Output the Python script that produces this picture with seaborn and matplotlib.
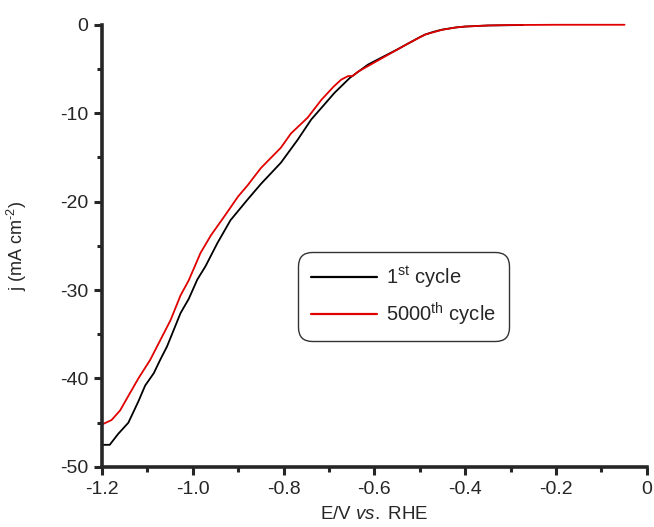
import numpy as np
import pandas as pd
import seaborn as sns
import matplotlib.pyplot as plt
from matplotlib.ticker import MultipleLocator

# polarisation curves
E_first = [-1.200, -1.183, -1.165, -1.142, -1.120, -1.105, -1.086, -1.071, -1.057, -1.027,
           -1.009, -0.990, -0.972, -0.946, -0.917, -0.880, -0.850, -0.806, -0.769, -0.739,
           -0.710, -0.688, -0.654, -0.614, -0.584, -0.550, -0.525, -0.500, -0.488, -0.470,
           -0.451, -0.420, -0.400, -0.350, -0.273]
j_first = [-47.5, -47.5, -46.3, -45.0, -42.6, -40.8, -39.4, -37.8, -36.4, -32.6,
           -31.0, -28.8, -27.3, -24.7, -22.1, -19.8, -18.0, -15.6, -13.0, -10.7,
           -9.0, -7.7, -6.0, -4.5, -3.7, -2.8, -2.1, -1.4, -1.1, -0.8,
           -0.55, -0.3, -0.2, -0.08, -0.03]

E_5000 = [-1.200, -1.179, -1.160, -1.149, -1.120, -1.094, -1.071, -1.049, -1.027, -1.009,
          -0.983, -0.960, -0.931, -0.900, -0.880, -0.850, -0.806, -0.784, -0.747, -0.717,
          -0.690, -0.673, -0.658, -0.648, -0.636, -0.584, -0.525, -0.488, -0.451, -0.420,
          -0.400, -0.350, -0.300, -0.200, -0.100, -0.049]
j_5000 = [-45.2, -44.7, -43.6, -42.6, -40.0, -37.9, -35.6, -33.4, -30.6, -28.9,
          -25.8, -23.8, -21.7, -19.4, -18.2, -16.2, -13.9, -12.3, -10.5, -8.5,
          -7.0, -6.2, -5.8, -5.8, -5.3, -3.8, -2.1, -1.1, -0.57, -0.3,
          -0.2, -0.08, -0.03, 0.0, 0.0, 0.0]

labels = ['1$^{\\mathrm{st}}$ cycle', '5000$^{\\mathrm{th}}$ cycle']
colors = ['black', '#e00000']

x_ticks = [-1.2, -1.0, -0.8, -0.6, -0.4, -0.2, 0.0]
x_ticklabels = ['-1.2', '-1.0', '-0.8', '-0.6', '-0.4', '-0.2', '0']
y_ticks = [-50, -40, -30, -20, -10, 0]
y_ticklabels = ['-50', '-40', '-30', '-20', '-10', '0']

sns.set_style('ticks')
plt.rcParams['font.family'] = ['Liberation Sans', 'DejaVu Sans']
plt.rcParams['mathtext.fontset'] = 'custom'
plt.rcParams['mathtext.rm'] = 'Liberation Sans'
plt.rcParams['mathtext.it'] = 'Liberation Sans:italic'

df = pd.concat([
    pd.DataFrame({'E': E_first, 'j': j_first, 'cycle': labels[0]}),
    pd.DataFrame({'E': E_5000, 'j': j_5000, 'cycle': labels[1]}),
])

fig = plt.figure(figsize=(6.54, 5.27), dpi=100)
ax = fig.add_axes([0.156, 0.114, 0.833, 0.839])

sns.lineplot(data=df, x='E', y='j', hue='cycle', palette=colors, sort=False,
             linewidth=1.3, ax=ax, clip_on=False)

ax.set_xlim(-1.2, 0)
ax.set_ylim(-50, 0)
ax.set_xticks(x_ticks)
ax.set_xticklabels(x_ticklabels)
ax.set_yticks(y_ticks)
ax.set_yticklabels(y_ticklabels)
ax.xaxis.set_minor_locator(MultipleLocator(0.1))
ax.yaxis.set_minor_locator(MultipleLocator(5))

for s in ['top', 'right']:
    ax.spines[s].set_visible(False)
for s in ['left', 'bottom']:
    ax.spines[s].set_linewidth(2.6)
ax.tick_params(which='major', direction='out', length=6, width=2.2, labelsize=14, pad=4)
ax.tick_params(which='minor', direction='out', length=3.5, width=2.2)

ax.set_xlabel('E/V $\\it{vs.}$ RHE', fontsize=13.5, labelpad=6)
ax.set_ylabel('j (mA cm$^{\\text{-}2}$)', fontsize=13, labelpad=22)

leg = ax.legend(loc='center', bbox_to_anchor=(0.553, 0.386), fontsize=14.5,
                handlelength=3.3, handletextpad=0.45, frameon=True, fancybox=True,
                edgecolor='black', borderpad=0.65, labelspacing=0.5, borderaxespad=0)
leg.get_frame().set_linewidth(1.0)
leg.get_frame().set_boxstyle('round', pad=0, rounding_size=0.7)
for line in leg.get_lines():
    line.set_linewidth(1.6)

fig.savefig('out.png', dpi=100)
